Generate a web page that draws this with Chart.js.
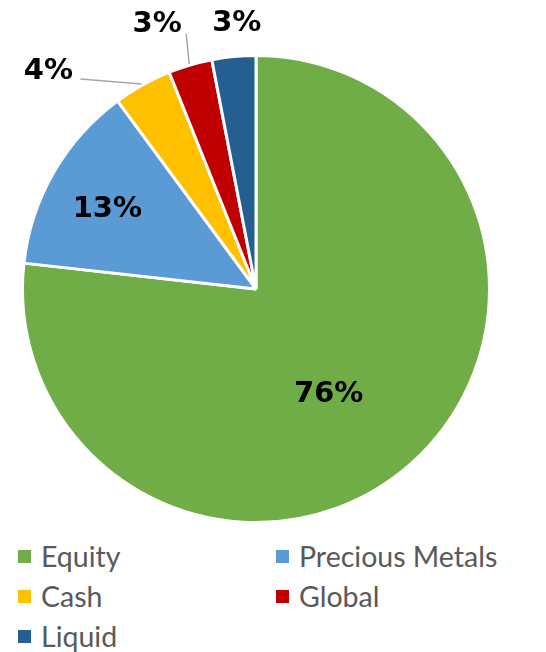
<!DOCTYPE html>
<html>
<head>
<meta charset="utf-8">
<script src="https://cdn.jsdelivr.net/npm/chart.js@4.4.1/dist/chart.umd.min.js"></script>
<style>
  body { margin: 0; background: #fff; }
  #wrap { position: relative; width: 546px; height: 652px; }
  #pie { position: absolute; left: 0; top: 0; }
  #legend {
    position: absolute; left: 18px; top: 536px; width: 528px;
    display: grid; grid-template-columns: 258px 258px; row-gap: 0;
    font-family: Lato, "Liberation Sans", sans-serif; font-size: 28.5px; color: #595959;
  }
  .item { display: flex; align-items: center; height: 40px; }
  .box { width: 13px; height: 13px; margin-right: 10px; flex: none; }
</style>
</head>
<body>
<div id="wrap">
  <canvas id="pie" width="546" height="530"></canvas>
  <div id="legend"></div>
</div>
<script>
// ---- data ----
const categories = ["Equity", "Precious Metals", "Cash", "Global", "Liquid"];
const shares = [76, 13, 4, 3, 3];
const colors = ["#70AD47", "#5B9BD5", "#FFC000", "#C00000", "#255E91"];

// label placement per slice (pixels), inside ones use a radius fraction
const labelStyle = [
  { inside: true, r: 0.55, dx: -13, dy: 10 },
  { inside: true, r: 0.73, dx: -1, dy: 6 },
  { dx: -94, dy: -13, line: [[-1, -1], [-62, -6]] },
  { dx: -33, dy: -40, line: [[-1, -1], [-4, -31]] },
  { dx: 3, dy: -33 }
];

const labelPlugin = {
  id: "pctLabels",
  afterDatasetsDraw(chart) {
    const c = chart.ctx;
    const arcs = chart.getDatasetMeta(0).data;
    c.save();
    c.font = "bold 29px 'DejaVu Sans', sans-serif";
    c.fillStyle = "#000";
    c.textAlign = "center";
    c.textBaseline = "middle";
    arcs.forEach((arc, i) => {
      const s = labelStyle[i];
      const mid = (arc.startAngle + arc.endAngle) / 2;
      const txt = shares[i] + "%";
      if (s.inside) {
        const d = arc.outerRadius * s.r;
        c.fillText(txt, arc.x + Math.cos(mid) * d + s.dx, arc.y + Math.sin(mid) * d + s.dy);
        return;
      }
      const px = arc.x + Math.cos(mid) * arc.outerRadius;
      const py = arc.y + Math.sin(mid) * arc.outerRadius;
      if (s.line) {
        c.strokeStyle = "#A6A6A6";
        c.lineWidth = 1.5;
        c.beginPath();
        c.moveTo(px + s.line[0][0], py + s.line[0][1]);
        c.lineTo(px + s.line[1][0], py + s.line[1][1]);
        c.stroke();
      }
      c.fillText(txt, px + s.dx, py + s.dy);
    });
    c.restore();
  }
};

const chart = new Chart(document.getElementById("pie"), {
  type: "pie",
  data: {
    labels: categories,
    datasets: [{
      data: shares,
      backgroundColor: colors,
      borderColor: "#FFFFFF",
      borderWidth: 3
    }]
  },
  options: {
    responsive: false,
    animation: false,
    layout: { padding: { top: 54, bottom: 6, left: 21, right: 55 } },
    plugins: {
      legend: { display: false },
      tooltip: { enabled: false }
    }
  },
  plugins: [labelPlugin]
});

// html legend in two columns, built from the chart data
const legendEl = document.getElementById("legend");
categories.forEach((name, i) => {
  const item = document.createElement("div");
  item.className = "item";
  const box = document.createElement("span");
  box.className = "box";
  box.style.background = colors[i];
  const label = document.createElement("span");
  label.textContent = name;
  item.appendChild(box);
  item.appendChild(label);
  legendEl.appendChild(item);
});
</script>
</body>
</html>
